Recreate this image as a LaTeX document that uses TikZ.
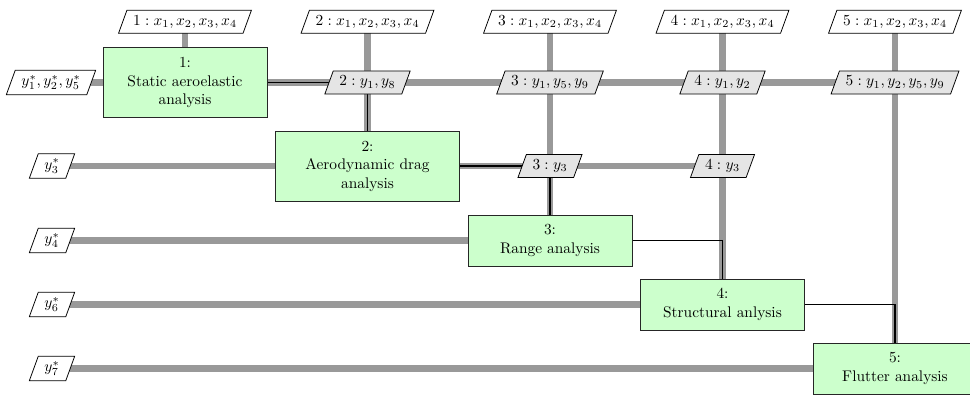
\documentclass[tikz,border=0pt]{standalone}
\usetikzlibrary{shapes.geometric}
\pgfdeclarelayer{bg}
\pgfsetlayers{bg,main}
\begin{document}
\begin{tikzpicture}[x=0.65pt,y=-0.65pt,
  func/.style={draw=black!85, fill=green!20, align=center, minimum width=106.6pt,
    minimum height=33pt, inner sep=2pt, line width=0.5pt},
  tall/.style={minimum height=45.5pt},
  dio/.style={trapezium, trapezium left angle=70, trapezium right angle=110, draw,
    fill=white, inner xsep=4pt, inner ysep=3.3pt, line width=0.5pt},
  dint/.style={dio, fill=black!10},
  dline/.style={line width=4.5pt, draw=black!40},
  pline/.style={line width=1pt, draw=black}]
\useasboundingbox (0,0) rectangle (970,395);

% function blocks
\node[func,tall] (b1) at (185,82.5) {1:\\Static aeroelastic\\analysis};
\node[func,tall,minimum width=119.6pt] (b2) at (367.5,166) {2:\\Aerodynamic drag\\analysis};
\node[func] (b3) at (550,240.5) {3:\\Range analysis};
\node[func] (b4) at (722.5,304.5) {4:\\Structural anlysis};
\node[func] (b5) at (895,368.5) {5:\\Flutter analysis};

% top inputs
\node[dio] (t1) at (185,21.7) {$1: x_1, x_2, x_3, x_4$};
\node[dio] (t2) at (367.5,21.7) {$2: x_1, x_2, x_3, x_4$};
\node[dio] (t3) at (550,21.7) {$3: x_1, x_2, x_3, x_4$};
\node[dio] (t4) at (722.5,21.7) {$4: x_1, x_2, x_3, x_4$};
\node[dio] (t5) at (895,21.7) {$5: x_1, x_2, x_3, x_4$};

% left inputs
\node[dio] (i1) at (51,82.5) {$y_1^*, y_2^*, y_5^*$};
\node[dio] (i2) at (52,166) {$y_3^*$};
\node[dio] (i3) at (52,240.5) {$y_4^*$};
\node[dio] (i4) at (52,304.5) {$y_6^*$};
\node[dio] (i5) at (52,368.5) {$y_7^*$};

% coupling data
\node[dint] (d12) at (367.5,82.5) {$2: y_1, y_8$};
\node[dint] (d13) at (550,82.5) {$3: y_1, y_5, y_9$};
\node[dint] (d14) at (722.5,82.5) {$4: y_1, y_2$};
\node[dint] (d15) at (895,82.5) {$5: y_1, y_2, y_5, y_9$};
\node[dint] (d23) at (550,166) {$3: y_3$};
\node[dint] (d24) at (722.5,166) {$4: y_3$};

\begin{pgfonlayer}{bg}
  % data lines
  \draw[dline] (i1.center) -- (b1.center) -- (d12.center) -- (d13.center) -- (d14.center) -- (d15.center);
  \draw[dline] (t1.center) -- (b1.center);
  \draw[dline] (t2.center) -- (d12.center) -- (b2.center);
  \draw[dline] (t3.center) -- (d13.center) -- (d23.center) -- (b3.center);
  \draw[dline] (t4.center) -- (d14.center) -- (d24.center) -- (b4.center);
  \draw[dline] (t5.center) -- (d15.center) -- (b5.center);
  \draw[dline] (i2.center) -- (b2.center) -- (d23.center) -- (d24.center);
  \draw[dline] (i3.center) -- (b3.center);
  \draw[dline] (i4.center) -- (b4.center);
  \draw[dline] (i5.center) -- (b5.center);
  % process lines
  \draw[pline] (b1.center) -- (d12.center) -- (b2.center);
  \draw[pline] (b2.center) -- (d23.center) -- (b3.center);
  \draw[pline] (b3.center) -| (b4.center);
  \draw[pline] (b4.center) -| (b5.center);
\end{pgfonlayer}
\end{tikzpicture}
\end{document}
